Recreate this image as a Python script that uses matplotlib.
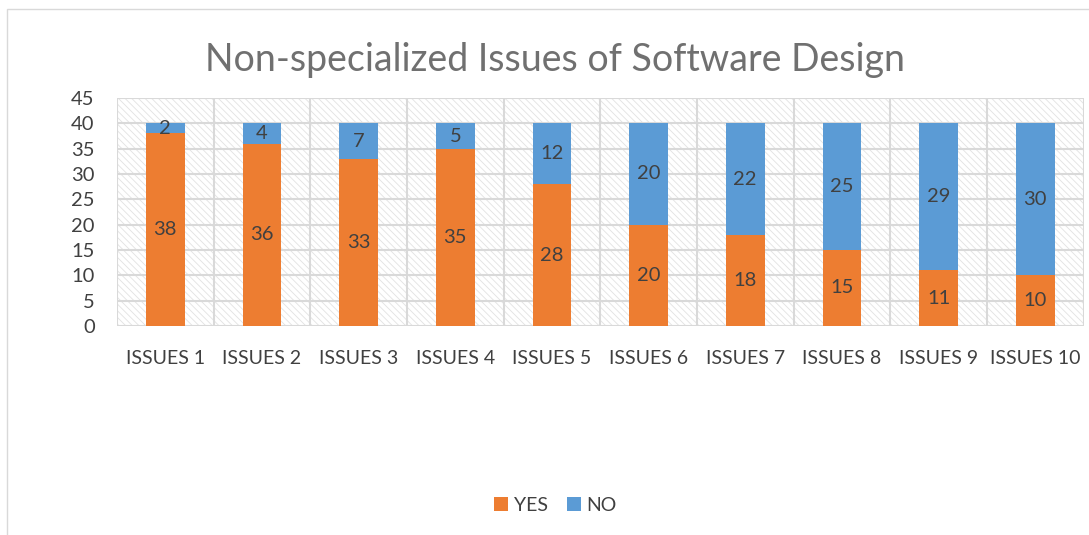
import matplotlib.pyplot as plt
import matplotlib.patches as patches
import numpy as np

plt.rcParams['font.family'] = ['Lato', 'DejaVu Sans']
plt.rcParams['hatch.linewidth'] = 0.6

categories = ['ISSUES 1', 'ISSUES 2', 'ISSUES 3', 'ISSUES 4', 'ISSUES 5',
              'ISSUES 6', 'ISSUES 7', 'ISSUES 8', 'ISSUES 9', 'ISSUES 10']
yes_vals = [38, 36, 33, 35, 28, 20, 18, 15, 11, 10]
no_vals = [2, 4, 7, 5, 12, 20, 22, 25, 29, 30]
yticks = [0, 5, 10, 15, 20, 25, 30, 35, 40, 45]

orange = '#ed7d31'
blue = '#5b9bd5'
text_col = '#404040'
grid_col = '#d9d9d9'

fig = plt.figure(figsize=(10.89, 5.35), dpi=100)
ax = fig.add_axes([0.1074, 0.3907, 0.8876, 0.4261])

# chart border
fig.patches.append(patches.Rectangle((7 / 1089, -0.1), 1.2, 1 - 9 / 535 + 0.1,
                                     transform=fig.transFigure, fill=False,
                                     edgecolor='#d9d9d9', linewidth=1))

x = np.arange(len(categories))
ax.set_xlim(-0.5, len(categories) - 0.5)
ax.set_ylim(0, 45)

# hatched background
ax.add_patch(patches.Rectangle((0, 0), 1, 1, transform=ax.transAxes,
                               facecolor='white', edgecolor='#e2e2e2',
                               hatch='\\\\\\\\\\', linewidth=0, zorder=0))
for yv in yticks:
    ax.axhline(yv, color=grid_col, linewidth=1.5, zorder=1)
for xv in np.arange(-0.5, len(categories), 1.0):
    ax.axvline(xv, color=grid_col, linewidth=1.5, zorder=1)

b1 = ax.bar(x, yes_vals, width=0.4, color=orange, label='YES', zorder=3)
b2 = ax.bar(x, no_vals, width=0.4, bottom=yes_vals, color=blue, label='NO', zorder=3)
ax.bar_label(b1, label_type='center', fontsize=14.5, color=text_col)
ax.bar_label(b2, label_type='center', fontsize=14.5, color=text_col)

ax.set_xticks(x)
ax.set_xticklabels(categories, fontsize=14, color=text_col)
ax.set_yticks(yticks)
ax.set_yticklabels([str(v) for v in yticks], fontsize=14.5, color=text_col)
ax.tick_params(axis='x', length=0, pad=17)
ax.tick_params(axis='y', length=0, pad=16)
for s in ax.spines.values():
    s.set_visible(False)

fig.text(0.51, 0.888, 'Non-specialized Issues of Software Design', ha='center',
         va='center', fontsize=27, color='#707070')

fig.legend(handles=[b1, b2], labels=['YES', 'NO'], loc='center',
           bbox_to_anchor=(0.51, 0.056), ncol=2, frameon=False, fontsize=14,
           handlelength=0.7, handleheight=0.7, handletextpad=0.3,
           columnspacing=1.0, labelcolor=text_col)

fig.savefig('out.png', dpi=100)
